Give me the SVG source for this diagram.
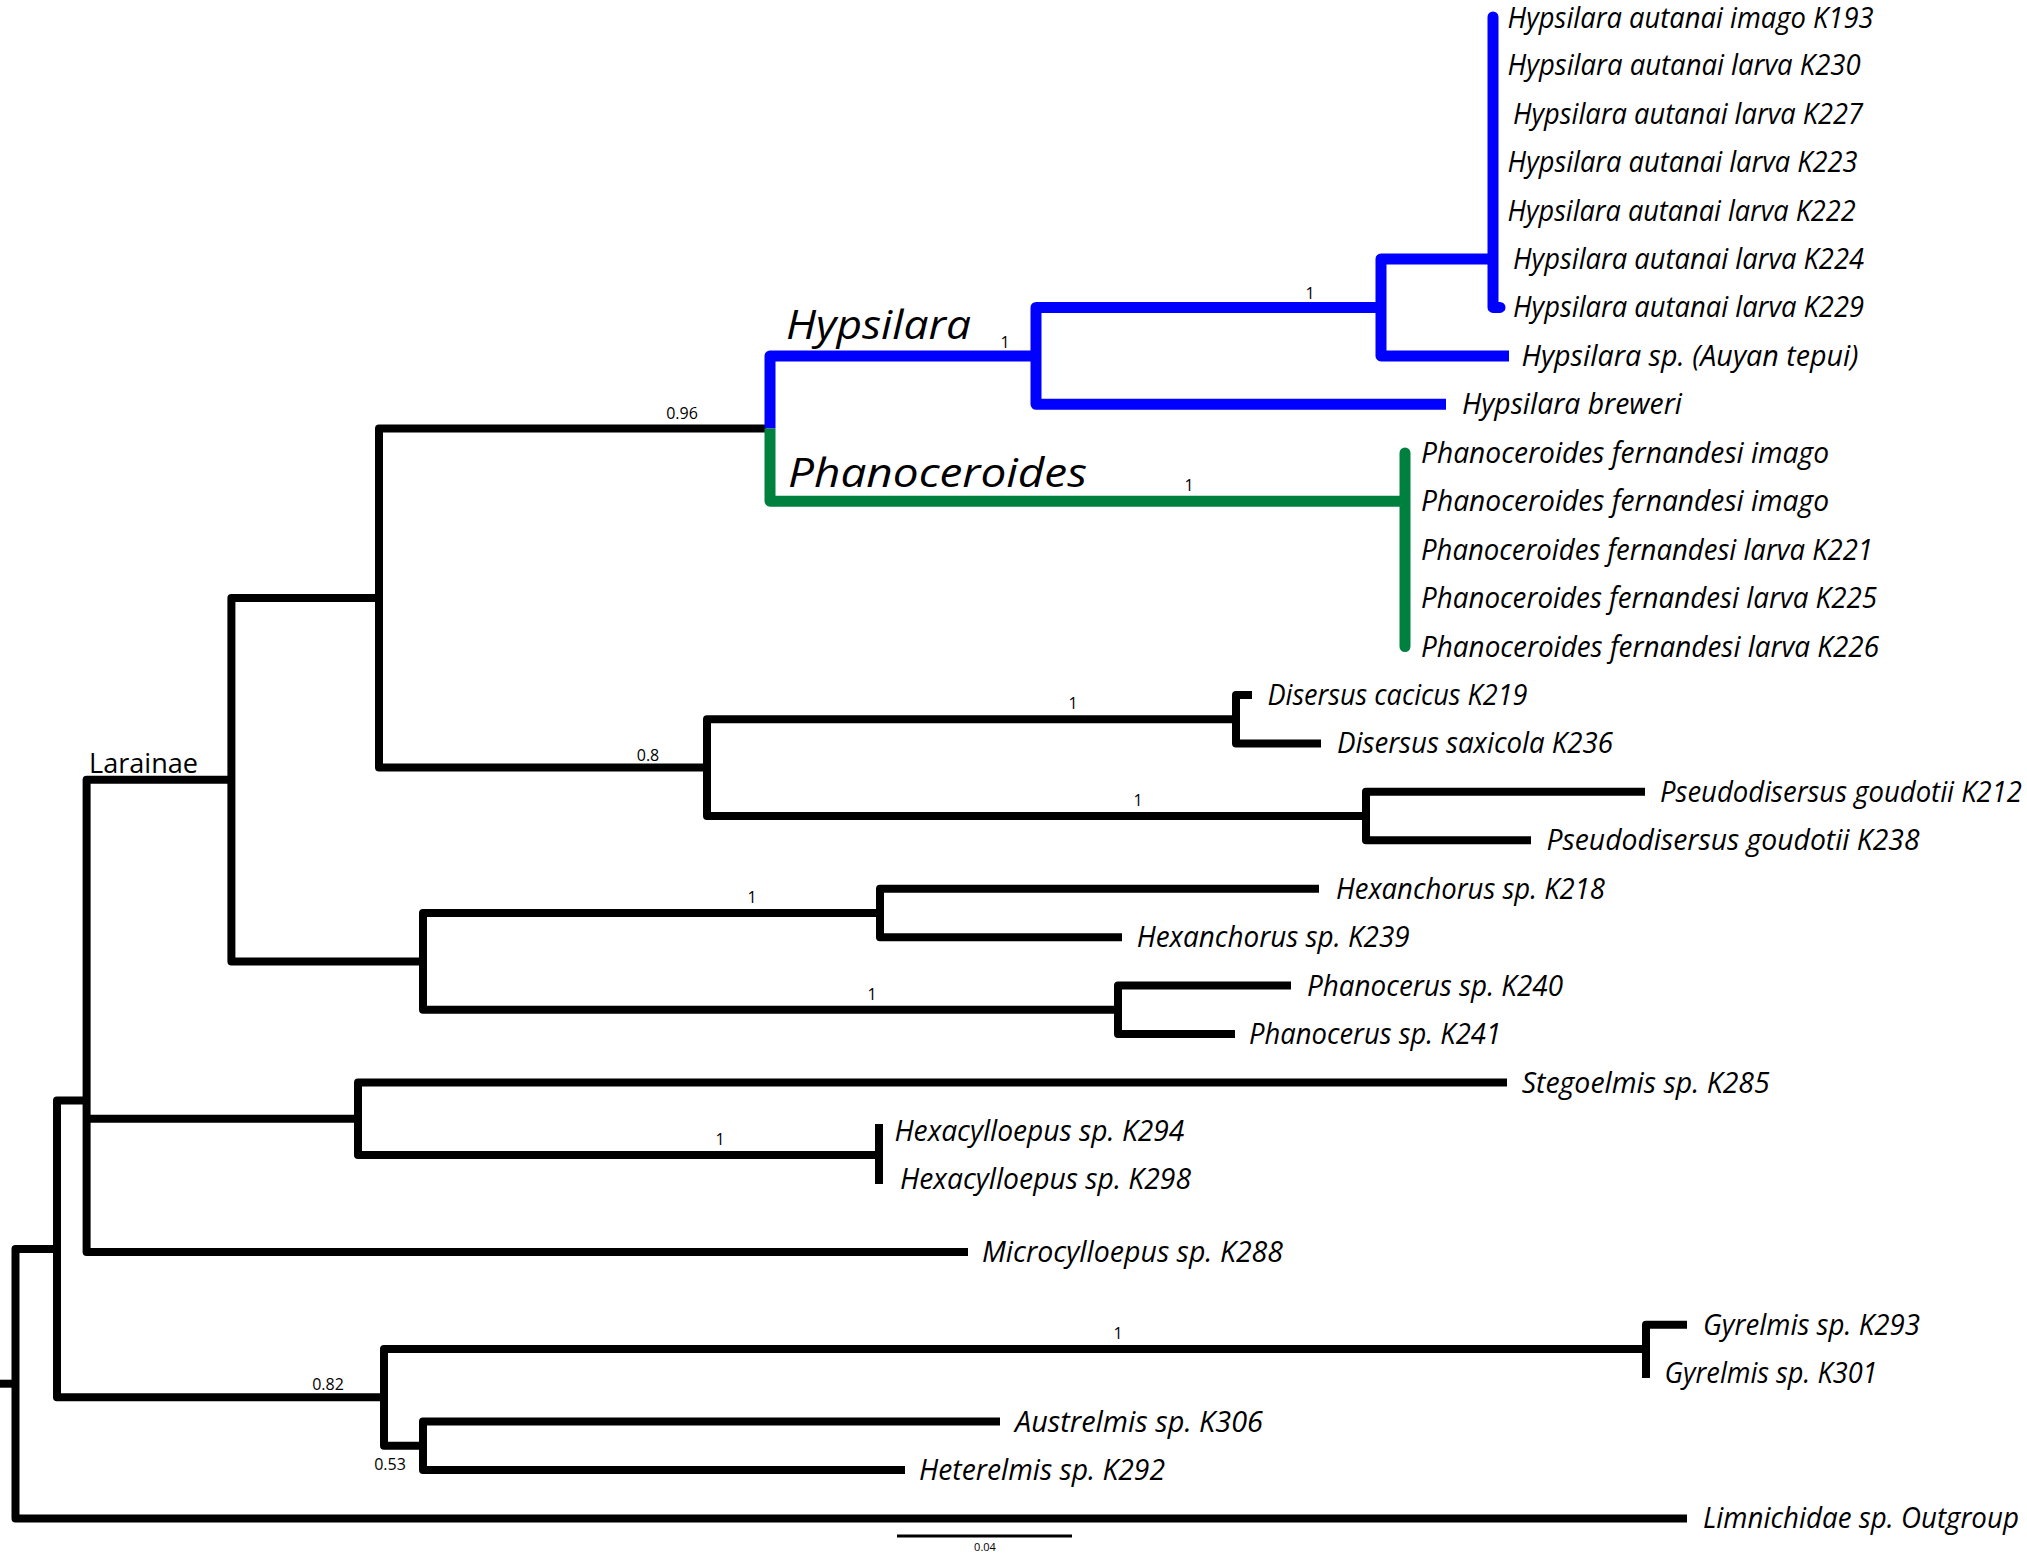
<svg xmlns="http://www.w3.org/2000/svg" width="2027" height="1554" viewBox="0 0 2027 1554">
<style>
.br{fill:none;stroke:#000;stroke-width:8;stroke-linejoin:round;stroke-linecap:butt}
.bl{fill:none;stroke:#0000ff;stroke-width:11;stroke-linejoin:round;stroke-linecap:butt}
.gr{fill:none;stroke:#00803f;stroke-width:11;stroke-linejoin:round;stroke-linecap:butt}
.rc{stroke-linecap:round}
.tip{font-family:"Open Sans","Liberation Sans",sans-serif;font-style:italic;font-size:29px;fill:#000}
.grp{font-family:"Open Sans","Liberation Sans",sans-serif;font-style:italic;font-size:40px;fill:#000}
.sup{font-family:"Open Sans","Liberation Sans",sans-serif;font-size:16px;fill:#000;text-anchor:middle}
.lab{font-family:"Open Sans","Liberation Sans",sans-serif;font-size:28px;fill:#000}
</style>
<rect width="2027" height="1554" fill="#fff"/>
<g id="connectors">
  <path class="br" d="M0 1383.7H15.5"/>
  <path class="br" d="M57 1249H15.5V1518.4H1687"/>
  <path class="br" d="M86.6 1100.6H57V1397.3H384"/>
  <path class="br" d="M231.4 779.7H86.6V1252H968"/>
  <path class="br" d="M86.6 1118.8H358"/>
  <path class="br" d="M379 598H231.4V961.4H423"/>
  <path class="br" d="M766 428.5H379V767.6H707"/>
  <path class="br" d="M1236 719.2H707V816H1366"/>
  <path class="br" d="M1252 695H1236V743.4H1321"/>
  <path class="br" d="M1645 791.8H1366V840.3H1531"/>
  <path class="br" d="M880 913H423V1009.8H1118"/>
  <path class="br" d="M1319 888.7H880V937.2H1122"/>
  <path class="br" d="M1291 985.6H1118V1034H1235"/>
  <path class="br" d="M1507 1082.5H358V1155.1H879"/>
  <path class="br" d="M879 1124V1184"/>
  <path class="br" d="M1646 1348.9H384V1445.8H423"/>
  <path class="br" d="M1687 1324.7H1646V1378"/>
  <path class="br" d="M1000 1421.6H423V1470H905"/>
  <path class="bl" d="M1036 355.9H770V428.5"/>
  <path class="bl" d="M1381 307.4H1036V404.3H1446"/>
  <path class="bl" d="M1493 259H1381V355.9H1509"/>
  <path class="bl rc" d="M1493 17V307.4H1500"/>
  <path class="gr" d="M770 428.5V501.2H1405"/>
  <path class="gr rc" d="M1405 453V646.5"/>
  <path d="M897 1536H1072" stroke="#000" stroke-width="3"/>
</g>
<g id="tips">
  <g id="t-k193"><text class="tip" x="1507.6" y="28" textLength="366" lengthAdjust="spacingAndGlyphs">Hypsilara autanai imago K193</text></g>
  <g id="t-k230"><text class="tip" x="1507.6" y="75.2" textLength="353" lengthAdjust="spacingAndGlyphs">Hypsilara autanai larva K230</text></g>
  <g id="t-k227"><text class="tip" x="1513" y="123.7" textLength="350" lengthAdjust="spacingAndGlyphs">Hypsilara autanai larva K227</text></g>
  <g id="t-k223"><text class="tip" x="1507.6" y="172.1" textLength="350" lengthAdjust="spacingAndGlyphs">Hypsilara autanai larva K223</text></g>
  <g id="t-k222"><text class="tip" x="1507.6" y="220.6" textLength="348" lengthAdjust="spacingAndGlyphs">Hypsilara autanai larva K222</text></g>
  <g id="t-k224"><text class="tip" x="1513" y="269" textLength="351" lengthAdjust="spacingAndGlyphs">Hypsilara autanai larva K224</text></g>
  <g id="t-k229"><text class="tip" x="1513" y="317.4" textLength="351" lengthAdjust="spacingAndGlyphs">Hypsilara autanai larva K229</text></g>
  <g id="t-auyan"><text class="tip" x="1521.4" y="365.9" textLength="337" lengthAdjust="spacingAndGlyphs">Hypsilara sp. (Auyan tepui)</text></g>
  <g id="t-breweri"><text class="tip" x="1462" y="414.3" textLength="220" lengthAdjust="spacingAndGlyphs">Hypsilara breweri</text></g>
  <g id="t-pf-imago1"><text class="tip" x="1421" y="462.8" textLength="408" lengthAdjust="spacingAndGlyphs">Phanoceroides fernandesi imago</text></g>
  <g id="t-pf-imago2"><text class="tip" x="1421" y="511.2" textLength="408" lengthAdjust="spacingAndGlyphs">Phanoceroides fernandesi imago</text></g>
  <g id="t-k221"><text class="tip" x="1421" y="559.6" textLength="452" lengthAdjust="spacingAndGlyphs">Phanoceroides fernandesi larva K221</text></g>
  <g id="t-k225"><text class="tip" x="1421" y="608.1" textLength="456" lengthAdjust="spacingAndGlyphs">Phanoceroides fernandesi larva K225</text></g>
  <g id="t-k226"><text class="tip" x="1421" y="656.5" textLength="458" lengthAdjust="spacingAndGlyphs">Phanoceroides fernandesi larva K226</text></g>
  <g id="t-k219"><text class="tip" x="1267.5" y="705" textLength="260" lengthAdjust="spacingAndGlyphs">Disersus cacicus K219</text></g>
  <g id="t-k236"><text class="tip" x="1337" y="753.4" textLength="276" lengthAdjust="spacingAndGlyphs">Disersus saxicola K236</text></g>
  <g id="t-k212"><text class="tip" x="1660" y="801.8" textLength="362" lengthAdjust="spacingAndGlyphs">Pseudodisersus goudotii K212</text></g>
  <g id="t-k238"><text class="tip" x="1546.5" y="850.3" textLength="373" lengthAdjust="spacingAndGlyphs">Pseudodisersus goudotii K238</text></g>
  <g id="t-k218"><text class="tip" x="1336" y="898.7" textLength="269" lengthAdjust="spacingAndGlyphs">Hexanchorus sp. K218</text></g>
  <g id="t-k239"><text class="tip" x="1136.7" y="947.2" textLength="273" lengthAdjust="spacingAndGlyphs">Hexanchorus sp. K239</text></g>
  <g id="t-k240"><text class="tip" x="1307" y="995.6" textLength="256" lengthAdjust="spacingAndGlyphs">Phanocerus sp. K240</text></g>
  <g id="t-k241"><text class="tip" x="1249" y="1044" textLength="252" lengthAdjust="spacingAndGlyphs">Phanocerus sp. K241</text></g>
  <g id="t-k285"><text class="tip" x="1521.7" y="1092.5" textLength="248" lengthAdjust="spacingAndGlyphs">Stegoelmis sp. K285</text></g>
  <g id="t-k294"><text class="tip" x="894.4" y="1140.9" textLength="290" lengthAdjust="spacingAndGlyphs">Hexacylloepus sp. K294</text></g>
  <g id="t-k298"><text class="tip" x="900" y="1189.4" textLength="291" lengthAdjust="spacingAndGlyphs">Hexacylloepus sp. K298</text></g>
  <g id="t-k288"><text class="tip" x="982" y="1262" textLength="301" lengthAdjust="spacingAndGlyphs">Microcylloepus sp. K288</text></g>
  <g id="t-k293"><text class="tip" x="1703" y="1334.7" textLength="217" lengthAdjust="spacingAndGlyphs">Gyrelmis sp. K293</text></g>
  <g id="t-k301"><text class="tip" x="1664.6" y="1383.1" textLength="213" lengthAdjust="spacingAndGlyphs">Gyrelmis sp. K301</text></g>
  <g id="t-k306"><text class="tip" x="1015" y="1431.6" textLength="248" lengthAdjust="spacingAndGlyphs">Austrelmis sp. K306</text></g>
  <g id="t-k292"><text class="tip" x="919" y="1480" textLength="246" lengthAdjust="spacingAndGlyphs">Heterelmis sp. K292</text></g>
  <g id="t-outgroup"><text class="tip" x="1703" y="1528.4" textLength="316" lengthAdjust="spacingAndGlyphs">Limnichidae sp. Outgroup</text></g>
</g>
<g id="clade-labels">
  <g id="c-hypsilara"><text class="grp" x="786" y="339" textLength="185" lengthAdjust="spacingAndGlyphs">Hypsilara</text></g>
  <g id="c-phanoceroides"><text class="grp" x="788" y="487" textLength="299" lengthAdjust="spacingAndGlyphs">Phanoceroides</text></g>
  <g id="c-larainae"><text class="lab" x="89" y="773" textLength="109" lengthAdjust="spacingAndGlyphs">Larainae</text></g>
</g>
<g id="support">
  <text class="sup" x="682" y="419">0.96</text>
  <text class="sup" x="648" y="761">0.8</text>
  <text class="sup" x="1005" y="348">1</text>
  <text class="sup" x="1310" y="299">1</text>
  <text class="sup" x="1189" y="491">1</text>
  <text class="sup" x="1073" y="709">1</text>
  <text class="sup" x="1138" y="806">1</text>
  <text class="sup" x="752" y="903">1</text>
  <text class="sup" x="872" y="1000">1</text>
  <text class="sup" x="720" y="1145">1</text>
  <text class="sup" x="1118" y="1339">1</text>
  <text class="sup" x="328" y="1390">0.82</text>
  <text class="sup" x="390" y="1470">0.53</text>
  <text class="sup" x="985" y="1551" style="font-size:11px">0.04</text>
</g>
</svg>
